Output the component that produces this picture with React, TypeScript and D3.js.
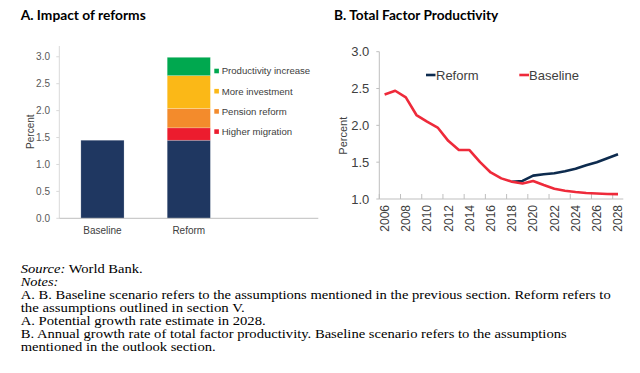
import React from 'react';
import * as d3 from 'd3';

// Panel A: potential growth in 2028
const barCategories = ['Baseline', 'Reform', ''];
const baseGrowth = [1.45, 1.45];
const contribKeys = ['Higher migration', 'Pension reform', 'More investment', 'Productivity increase'];
const migration = [0, 0.23];
const pension = [0, 0.36];
const investment = [0, 0.61];
const productivity = [0, 0.34];
const barTicks = [0, 0.5, 1, 1.5, 2, 2.5, 3];

// Panel B: TFP growth
const years = d3.range(2006, 2029);
const baselineTfp = [2.42, 2.47, 2.38, 2.14, 2.05, 1.97, 1.79, 1.665, 1.665, 1.5, 1.36, 1.28, 1.235, 1.21, 1.245, 1.19, 1.14, 1.113, 1.095, 1.081, 1.075, 1.068, 1.066];
const reformYears = d3.range(2018, 2029);
const reformTfp = [1.235, 1.245, 1.317, 1.335, 1.35, 1.377, 1.41, 1.457, 1.5, 1.552, 1.607];
const lineTicks = [1, 1.5, 2, 2.5, 3];

const noteLines = [
  'A. B. Baseline scenario refers to the assumptions mentioned in the previous section. Reform refers to',
  'the assumptions outlined in section V.',
  'A. Potential growth rate estimate in 2028.',
  'B. Annual growth rate of total factor productivity. Baseline scenario refers to the assumptions',
  'mentioned in the outlook section.',
];
// measured line widths in the reference (px)
const noteWidths = [590, 224, 245, 546, 195];

const colors = {
  base: '#1f3761',
  'Higher migration': '#ec1c2e',
  'Pension reform': '#f38b2c',
  'More investment': '#fbb817',
  'Productivity increase': '#00a84f',
};

const sans = 'Liberation Sans, Arial, sans-serif';
const serif = 'Liberation Serif, Times New Roman, serif';

function PanelA() {
  // build the table for d3.stack
  const rows = barCategories.slice(0, 2).map((c, i) => ({
    cat: c,
    base: baseGrowth[i],
    'Higher migration': migration[i],
    'Pension reform': pension[i],
    'More investment': investment[i],
    'Productivity increase': productivity[i],
  }));
  const keys = ['base', ...contribKeys];
  const series = d3.stack().keys(keys)(rows as any);

  const x = d3.scaleBand().domain(barCategories).range([59.3, 318.3]).paddingInner(0.5).paddingOuter(0.25);
  const y = d3.scaleLinear().domain([0, 3.2]).range([218.3, 46]);

  return (
    <g>
      <text x={20.7} y={19.5} fontFamily="Lato, Open Sans, sans-serif" fontWeight="bold" fontSize={13} textLength={125} lengthAdjust="spacingAndGlyphs">A. Impact of reforms</text>
      {series.map((s) => (
        <g key={s.key} fill={(colors as any)[s.key]}>
          {s.map((d: any, i) => (
            d[1] - d[0] > 0 ? (
              <rect key={i} x={x(d.data.cat)} y={y(d[1])} width={x.bandwidth()} height={y(d[0]) - y(d[1])} stroke="#ffffff" strokeOpacity={0.35} strokeWidth={0.6} />
            ) : null
          ))}
        </g>
      ))}
      <line x1={59.3} x2={59.3} y1={y(3.2)} y2={y(0)} stroke="#d9d9d9" />
      <line x1={59.3} x2={318.3} y1={y(0)} y2={y(0)} stroke="#bfbfbf" />
      {barTicks.map((t) => (
        <g key={t}>
          <line x1={56.3} x2={59.3} y1={y(t)} y2={y(t)} stroke="#d9d9d9" />
          <text x={50} y={y(t) + 3.5} textAnchor="end" fontFamily={sans} fontSize={10} fill="#595959">{d3.format('.1f')(t)}</text>
        </g>
      ))}
      {barCategories.slice(0, 2).map((c) => (
        <text key={c} x={(x(c) as number) + x.bandwidth() / 2} y={233.5} textAnchor="middle" fontFamily={sans} fontSize={10} fill="#404040">{c}</text>
      ))}
      <text transform="translate(33.5,131.7) rotate(-90)" textAnchor="middle" fontFamily={sans} fontSize={10} fill="#404040">Percent</text>
      {contribKeys.slice().reverse().map((k, i) => (
        <g key={k} transform={`translate(214.3,${71 + i * 20.2})`}>
          <rect x={0} y={-2.3} width={4.6} height={4.6} fill={(colors as any)[k]} />
          <text x={7.4} y={3.3} fontFamily={sans} fontSize={9.6} fill="#404040">{k}</text>
        </g>
      ))}
    </g>
  );
}

function PanelB() {
  const x = d3.scaleBand<number>().domain(years).range([379.3, 623.3]);
  const y = d3.scaleLinear().domain([1, 3]).range([199, 51.7]);
  const cx = (yr: number) => (x(yr) as number) + x.bandwidth() / 2;
  const line = d3.line<[number, number]>().x((d) => cx(d[0])).y((d) => y(d[1]));
  const basePts = years.map((yr, i) => [yr, baselineTfp[i]] as [number, number]);
  const refPts = reformYears.map((yr, i) => [yr, reformTfp[i]] as [number, number]);

  return (
    <g>
      <text x={334} y={19.5} fontFamily="Lato, Open Sans, sans-serif" fontWeight="bold" fontSize={13} textLength={164.3} lengthAdjust="spacingAndGlyphs">B. Total Factor Productivity</text>
      <line x1={379.3} x2={379.3} y1={y(3)} y2={y(1)} stroke="#bfbfbf" />
      <line x1={379.3} x2={623.3} y1={y(1)} y2={y(1)} stroke="#bfbfbf" />
      {lineTicks.map((t) => (
        <g key={t}>
          <line x1={376.3} x2={379.3} y1={y(t)} y2={y(t)} stroke="#bfbfbf" />
          <text x={369.3} y={y(t) + 4.6} textAnchor="end" fontFamily={sans} fontSize={13} fill="#404040">{d3.format('.1f')(t)}</text>
        </g>
      ))}
      {years.filter((yr) => yr % 2 === 0).map((yr) => (
        <g key={yr}>
          <line x1={x(yr)} x2={x(yr)} y1={y(1) - 5} y2={y(1)} stroke="#bfbfbf" />
          <text transform={`translate(${cx(yr) + 4.3},205) rotate(-90)`} textAnchor="end" fontFamily={sans} fontSize={12} fill="#404040">{yr}</text>
        </g>
      ))}
      <text transform="translate(346.5,135.7) rotate(-90)" textAnchor="middle" fontFamily={sans} fontSize={11} fill="#404040">Percent</text>
      <path d={line(refPts) as string} fill="none" stroke="#0d2b4e" strokeWidth={2.6} strokeLinejoin="round" />
      <path d={line(basePts) as string} fill="none" stroke="#ee2a3a" strokeWidth={2.6} strokeLinejoin="round" />
      <line x1={426} x2={435.5} y1={75} y2={75} stroke="#0d2b4e" strokeWidth={2.6} />
      <text x={436} y={79.5} fontFamily={sans} fontSize={13} fill="#404040">Reform</text>
      <line x1={519.3} x2={529} y1={75} y2={75} stroke="#ee2a3a" strokeWidth={2.6} />
      <text x={529} y={79.5} fontFamily={sans} fontSize={13} fill="#404040">Baseline</text>
    </g>
  );
}

function Notes() {
  const y0 = 273;
  const lh = 13;
  return (
    <g fontFamily={serif} fontSize={13.5} fill="#000000">
      <text x={20.7} y={y0} textLength={122} lengthAdjust="spacingAndGlyphs">
        <tspan fontStyle="italic">Source:</tspan> World Bank.
      </text>
      <text x={20.7} y={y0 + lh} fontStyle="italic" textLength={37.6} lengthAdjust="spacingAndGlyphs">Notes:</text>
      {noteLines.map((n, i) => (
        <text key={i} x={20.7} y={y0 + (2 + i) * lh} textLength={noteWidths[i]} lengthAdjust="spacingAndGlyphs">{n}</text>
      ))}
    </g>
  );
}

export default function App() {
  return (
    <svg width={640} height={373} style={{ position: 'absolute', left: 0, top: 0, background: '#ffffff' }}>
      <rect width={640} height={373} fill="#ffffff" />
      <PanelA />
      <PanelB />
      <Notes />
    </svg>
  );
}
